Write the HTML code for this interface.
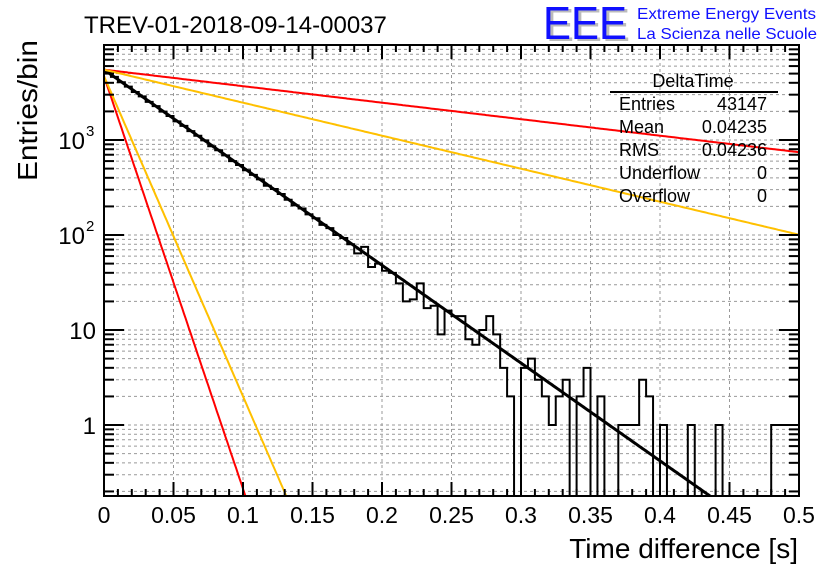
<!DOCTYPE html>
<html><head><meta charset="utf-8"><style>
html,body{margin:0;padding:0;background:#fff;overflow:hidden;width:836px;height:572px}
svg{display:block;font-family:"Liberation Sans",sans-serif}
</style></head><body>
<svg id="c" width="836" height="572" viewBox="0 0 836 572">
<text x="84" y="33" font-size="24">TREV-01-2018-09-14-00037</text>
<g>
<text x="546" y="41" font-size="46" fill="#bbb" textLength="84" lengthAdjust="spacingAndGlyphs">EEE</text>
<text x="543" y="39" font-size="46" fill="#1010ff" textLength="84" lengthAdjust="spacingAndGlyphs">EEE</text>
<text x="637" y="19" font-size="16" fill="#1010ff" textLength="179" lengthAdjust="spacingAndGlyphs">Extreme Energy Events</text>
<text x="637" y="39" font-size="16" fill="#1010ff" textLength="180" lengthAdjust="spacingAndGlyphs">La Scienza nelle Scuole</text>
</g>
<g id="grid"></g>
<g id="marks"></g>
<g id="axes"></g>
<g font-size="18">
<text x="693" y="87" text-anchor="middle">DeltaTime</text>
<line x1="610" y1="92" x2="778" y2="92" stroke="#000" stroke-width="2"/>
<text x="619" y="110">Entries</text><text x="767" y="110" text-anchor="end">43147</text>
<text x="619" y="133">Mean</text><text x="767" y="133" text-anchor="end">0.04235</text>
<text x="619" y="156">RMS</text><text x="767" y="156" text-anchor="end">0.04236</text>
<text x="619" y="179">Underflow</text><text x="767" y="179" text-anchor="end">0</text>
<text x="619" y="202">Overflow</text><text x="767" y="202" text-anchor="end">0</text>
</g>
<text transform="translate(37,181) rotate(-90)" font-size="28" textLength="141" lengthAdjust="spacingAndGlyphs">Entries/bin</text>
<text x="798" y="558" font-size="28" text-anchor="end">Time difference [s]</text>
</svg>
<script>
const binWidth = 0.005;
const counts = [5180,4620,4060,3650,3200,2880,2520,2270,1990,1790,1570,1410,1240,1110,990,860,780,690,600,545,480,430,385,330,305,270,235,205,190,165,150,128,118,100,93,80,64,75,46,50,42,40,31,20,21,31,17,18,9,16,14,14,8,7,10,14,9,4,2,0,4,5,3,2,1,2,3,0,2,4,0,2,0,0,1,1,1,3,2,0,1,0,0,0,1,0,0,0,1,0,0,0,0,0,0,0,1,1,1,1];
const fitNames = ['fit-black','fit-red-slow','fit-orange-slow','fit-red-steep','fit-orange-steep'];
const fitAmp = [5500,5500,5500,4700,4700];
const fitSlope = [23.7,4.0,8.0,100,77.6];
const fitColor = ['#000','#f00','#ffc000','#f00','#ffc000'];
const fitWidth = [3,2,2,2,2];
const xTicks = [0,0.05,0.1,0.15,0.2,0.25,0.3,0.35,0.4,0.45,0.5];
const xTickLabels = ['0','0.05','0.1','0.15','0.2','0.25','0.3','0.35','0.4','0.45','0.5'];

const X0=104,X1=799,Y0=45,Y1=496,XMAX=0.5,LMAX=4,LMIN=-0.747;
const sx=v=>X0+(X1-X0)*v/XMAX;
const sy=v=>{const l=v>0?Math.log10(v):LMIN;return Y0+(Y1-Y0)*(LMAX-Math.max(LMIN,Math.min(LMAX,l)))/(LMAX-LMIN);};
const NS='http://www.w3.org/2000/svg';
function mk(p,t,a){const e=document.createElementNS(NS,t);for(const k in a)e.setAttribute(k,a[k]);p.appendChild(e);return e;}
const grid=document.getElementById('grid'),marks=document.getElementById('marks'),axes=document.getElementById('axes');
xTicks.forEach((v,i)=>{if(i>0&&i<xTicks.length-1){const g=mk(grid,'line',{x1:sx(v),x2:sx(v),y1:Y0,y2:Y1,stroke:'#999','stroke-dasharray':'3,3'});

}});
for(let d=-1;d<4;d++)for(let m=1;m<10;m++){const v=m*Math.pow(10,d);const y=sy(v);if(y<=Y0+1||y>=Y1-1)continue;
const g=mk(grid,'line',{x1:X0,x2:X1,y1:y,y2:y,stroke:'#999','stroke-dasharray':'3,3'});


const L=m==1?20:10;
mk(axes,'line',{x1:X0,x2:X0+L,y1:y,y2:y,stroke:'#000','stroke-width':2});
mk(axes,'line',{x1:X1-L,x2:X1,y1:y,y2:y,stroke:'#000','stroke-width':2});}
let d='M'+X0+','+Y1;
counts.forEach((c,i)=>{const y=c>0?sy(c):Y1;d+=' L'+sx(i*binWidth)+','+y+' L'+sx((i+1)*binWidth)+','+y;});
d+=' L'+X1+','+Y1;
const h=mk(marks,'path',{d:d,fill:'none',stroke:'#000','stroke-width':2});


const cp=mk(marks,'clipPath',{id:'clp'});mk(cp,'rect',{x:X0,y:Y0,width:X1-X0,height:Y1-Y0});
fitNames.forEach((n,k)=>{let p='';for(let i=0;i<=400;i++){const x=XMAX*i/400;const v=fitAmp[k]*Math.exp(-fitSlope[k]*x);
const l=Math.log10(v);const y=Y0+(Y1-Y0)*(LMAX-l)/(LMAX-LMIN);p+=(i?' L':'M')+sx(x).toFixed(1)+','+y.toFixed(1);}
const e=mk(marks,'path',{d:p,fill:'none',stroke:fitColor[k],'stroke-width':fitWidth[k],'clip-path':'url(#clp)'});

});
mk(axes,'rect',{x:X0,y:Y0,width:X1-X0,height:Y1-Y0,fill:'none',stroke:'#000','stroke-width':2});
for(let i=0;i<=50;i++){const x=sx(i*0.01);const L=i%5==0?14:7;
mk(axes,'line',{x1:x,x2:x,y1:Y1,y2:Y1-L,stroke:'#000','stroke-width':2});
mk(axes,'line',{x1:x,x2:x,y1:Y0,y2:Y0+L,stroke:'#000','stroke-width':2});}
xTicks.forEach((v,i)=>{const t=mk(axes,'text',{x:sx(v),y:523,'font-size':23,'text-anchor':'middle'});t.textContent=xTickLabels[i];

});
function ylab(v,base,exp){const t=mk(axes,'text',{x:exp?85:96,y:sy(v)+9,'font-size':24,'text-anchor':'end'});t.textContent=base;


if(exp){const s=mk(axes,'text',{x:86,y:sy(v)-4,'font-size':15});s.textContent=exp;}}
ylab(1000,'10','3');ylab(100,'10','2');ylab(10,'10','');ylab(1,'1','');
</script>
</body></html>
